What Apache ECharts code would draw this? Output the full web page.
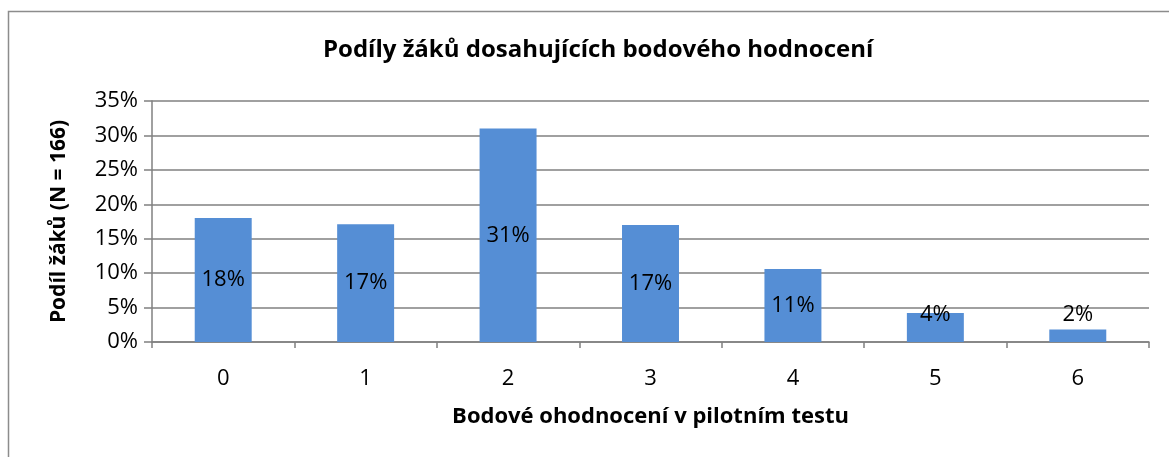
<!DOCTYPE html>
<html lang="cs">
<head>
    <meta charset="utf-8">
    <title>Podíly žáků</title>
    <script src="https://cdn.jsdelivr.net/npm/echarts@6/dist/echarts.min.js"></script>
    <style>
        html, body { margin: 0; padding: 0; background: #fff; }
        #chart { width: 1169px; height: 457px; }
    </style>
</head>
<body>
<div id="chart"></div>
<script>
    // data
    var scores = ['0', '1', '2', '3', '4', '5', '6'];
    var shares = [18.0, 17.1, 31.0, 17.0, 10.6, 4.2, 1.8];
    var shareLabels = ['18%', '17%', '31%', '17%', '11%', '4%', '2%'];
    var yTicks = [0, 5, 10, 15, 20, 25, 30, 35];

    var font = '"Open Sans", "Noto Sans", sans-serif';

    var barData = shares.map(function (v, i) {
        var item = { value: v, label: { formatter: shareLabels[i] } };
        // small bars: excel pushes the label up out of the bar
        if (v < 6) {
            item.label.position = 'insideBottom';
            item.label.offset = [0, -11];
        }
        return item;
    });

    var myChart = echarts.init(document.getElementById('chart'));
    myChart.setOption({
        animation: false,
        textStyle: { fontFamily: font },
        title: {
            text: 'Podíly žáků dosahujících bodového hodnocení',
            left: 318,
            top: 33,
            textStyle: { fontSize: 24, fontWeight: 'bold', color: '#000', fontFamily: font }
        },
        graphic: [{
            type: 'rect',
            shape: { x: 8.5, y: 11.5, width: 1200, height: 500 },
            style: { fill: 'none', stroke: '#8c8c8c', lineWidth: 1.5 },
            silent: true
        }],
        grid: { left: 152, right: 20, top: 101, bottom: 115 },
        xAxis: {
            type: 'category',
            data: scores,
            name: 'Bodové ohodnocení v pilotním testu',
            nameLocation: 'middle',
            nameGap: 64,
            nameTextStyle: { fontSize: 22, fontWeight: 'bold', color: '#000', fontFamily: font },
            axisLine: { lineStyle: { color: '#808080', width: 1.5 } },
            axisTick: { show: true, length: 6, lineStyle: { color: '#808080', width: 1.5 } },
            axisLabel: { fontSize: 22, color: '#000', margin: 26 }
        },
        yAxis: {
            type: 'value',
            min: yTicks[0],
            max: yTicks[yTicks.length - 1],
            interval: 5,
            name: 'Podíl žáků (N = 166)',
            nameLocation: 'middle',
            nameGap: 82,
            nameTextStyle: { fontSize: 21, fontWeight: 'bold', color: '#000', fontFamily: font },
            axisLine: { show: true, lineStyle: { color: '#808080', width: 1.5 } },
            axisTick: { show: true, inside: false, length: 8, lineStyle: { color: '#808080', width: 1.5 } },
            splitLine: { lineStyle: { color: '#808080', width: 1.5 } },
            axisLabel: { fontSize: 22, color: '#000', margin: 14, formatter: '{value}%' }
        },
        series: [{
            type: 'bar',
            data: barData,
            barWidth: '40%',
            itemStyle: { color: '#558ed5' },
            label: {
                show: true,
                position: 'inside',
                color: '#000',
                fontSize: 22,
                fontFamily: font
            }
        }]
    });
</script>
</body>
</html>
